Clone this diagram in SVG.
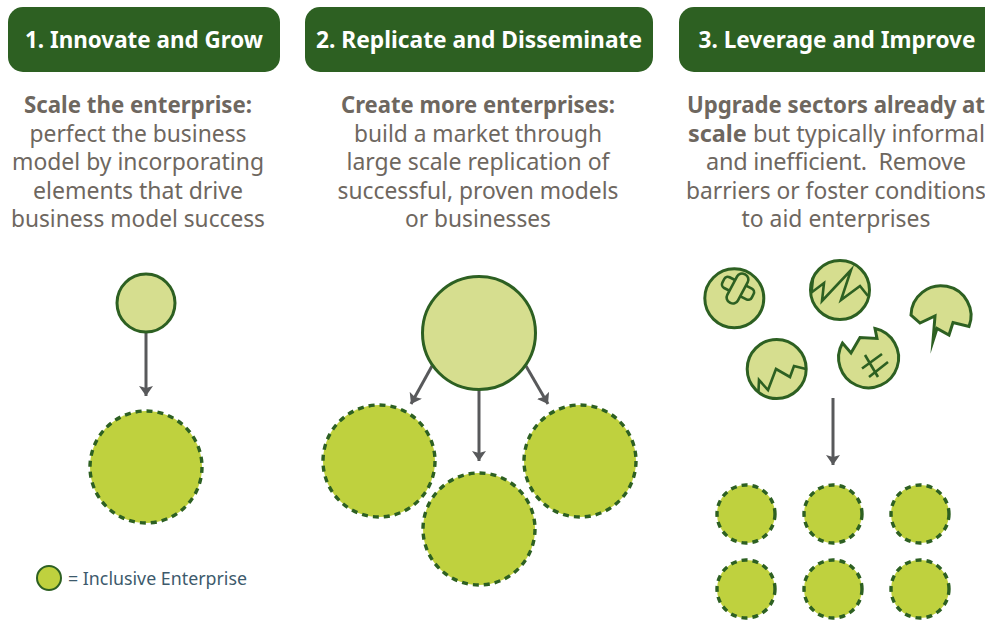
<svg xmlns="http://www.w3.org/2000/svg" width="985" height="620" viewBox="0 0 985 620">
<style>
text{font-family:"Noto Sans","Open Sans",sans-serif;text-anchor:middle}
.hb{fill:#2d6022}
.ht{fill:#fff;font-size:24px;font-weight:700}
.b{fill:#6e675f;font-size:23.5px}
.bb{font-weight:700}
.lt{fill:#d6de8f;stroke:#2d6022;stroke-width:3;stroke-linejoin:miter;stroke-miterlimit:12}
.br{fill:#bfd13e;stroke:#2d6022;stroke-width:3.4;stroke-dasharray:6 5}
.cr{fill:none;stroke:#2d6022;stroke-width:2.6;stroke-miterlimit:12}
.ar{stroke:#58595b;stroke-width:3;fill:none;marker-end:url(#h)}
</style>
<defs><marker id="h" markerUnits="userSpaceOnUse" markerWidth="11" markerHeight="14" refX="10" refY="7" orient="auto"><path d="M0 0L10 7L0 14L2 7Z" fill="#58595b"/></marker></defs>
<g id="connectors">
<path class="ar" d="M146 332V396"/>
<path class="ar" d="M479 390V461"/>
<path class="ar" d="M432 366L411 404"/>
<path class="ar" d="M526 366L548 404"/>
<path class="ar" d="M833 398V465"/>
</g>
<g id="header-1"><rect class="hb" x="8" y="7" width="272" height="65" rx="15"/><text class="ht" x="144" y="48" textLength="238" lengthAdjust="spacingAndGlyphs">1. Innovate and Grow</text></g>
<g id="header-2"><rect class="hb" x="305" y="7" width="348" height="65" rx="15"/><text class="ht" x="479" y="48" textLength="326" lengthAdjust="spacingAndGlyphs">2. Replicate and Disseminate</text></g>
<g id="header-3"><rect class="hb" x="679" y="7" width="326" height="65" rx="15"/><text class="ht" x="837" y="48" textLength="277" lengthAdjust="spacingAndGlyphs">3. Leverage and Improve</text></g>
<g id="text-1">
<text class="b bb" x="138" y="113" textLength="228" lengthAdjust="spacingAndGlyphs">Scale the enterprise:</text>
<text class="b" x="138" y="142" textLength="217" lengthAdjust="spacingAndGlyphs">perfect the business</text>
<text class="b" x="138" y="170" textLength="252" lengthAdjust="spacingAndGlyphs">model by incorporating</text>
<text class="b" x="138" y="199" textLength="210" lengthAdjust="spacingAndGlyphs">elements that drive</text>
<text class="b" x="138" y="227" textLength="254" lengthAdjust="spacingAndGlyphs">business model success</text>
</g>
<g id="text-2">
<text class="b bb" x="478" y="113" textLength="274" lengthAdjust="spacingAndGlyphs">Create more enterprises:</text>
<text class="b" x="478" y="142" textLength="248" lengthAdjust="spacingAndGlyphs">build a market through</text>
<text class="b" x="478" y="170" textLength="263" lengthAdjust="spacingAndGlyphs">large scale replication of</text>
<text class="b" x="478" y="199" textLength="281" lengthAdjust="spacingAndGlyphs">successful, proven models</text>
<text class="b" x="478" y="227" textLength="146" lengthAdjust="spacingAndGlyphs">or businesses</text>
</g>
<g id="text-3">
<text class="b bb" x="836" y="113" textLength="298" lengthAdjust="spacingAndGlyphs">Upgrade sectors already at</text>
<text class="b" x="836.500" y="142" textLength="297" lengthAdjust="spacingAndGlyphs"><tspan class="bb">scale</tspan> but typically informal</text>
<text class="b" x="836" y="170" xml:space="preserve" textLength="260" lengthAdjust="spacing">and inefficient.  Remove</text>
<text class="b" x="836" y="199" textLength="300" lengthAdjust="spacingAndGlyphs">barriers or foster conditions</text>
<text class="b" x="836" y="227" textLength="189" lengthAdjust="spacingAndGlyphs">to aid enterprises</text>
</g>
<g id="node-1-small"><circle class="lt" cx="146" cy="303" r="29"/></g>
<g id="node-1-large"><circle class="br" cx="146" cy="467" r="56"/></g>
<g id="node-2-top"><circle class="lt" cx="479" cy="333" r="56.5"/></g>
<g id="node-2-left"><circle class="br" cx="379" cy="461" r="56"/></g>
<g id="node-2-bottom"><circle class="br" cx="479" cy="529" r="56"/></g>
<g id="node-2-right"><circle class="br" cx="580" cy="461" r="56"/></g>
<g id="broken-1"><circle class="lt" cx="734.3" cy="298.3" r="29.5"/>
<g transform="translate(738 288.300) rotate(27)"><rect class="cr" x="-16.500" y="-6" width="33" height="12" rx="4"/></g>
<g transform="translate(737.500 288.500) rotate(-62)"><rect x="-16" y="-6" width="32" height="12" rx="5.500" fill="#d6de8f" stroke="#2d6022" stroke-width="2.600"/></g></g>
<g id="broken-2"><circle class="lt" cx="840" cy="290" r="29.5"/><path class="cr" d="M813 278L811.500 292.500L824 283L822 301L851 270L841 300L860 286L868 296"/></g>
<g id="broken-3"><path class="lt" d="M911 315A30 30 0 1 1 969 326.500L953 322.500L949 335L937 328.500L933 341L935 316L920 323Z"/></g>
<g id="broken-4"><circle class="lt" cx="776.700" cy="369" r="29.500"/><path class="cr" d="M758.500 391L759 380L768 390L776 369L790 377L794 366L806 369"/></g>
<g id="broken-5"><path class="lt" d="M875 328.500A30 30 0 1 1 842.500 343L851 353L860 337.500L877 338.500Z"/><path class="cr" d="M862 368.500L882 354M869 377L888 362M865 355L878 377"/></g>
<g id="node-3-a"><circle class="br" cx="746" cy="514" r="29"/></g>
<g id="node-3-b"><circle class="br" cx="833" cy="514" r="29"/></g>
<g id="node-3-c"><circle class="br" cx="920" cy="514" r="29"/></g>
<g id="node-3-d"><circle class="br" cx="746" cy="589" r="29"/></g>
<g id="node-3-e"><circle class="br" cx="833" cy="589" r="29"/></g>
<g id="node-3-f"><circle class="br" cx="920" cy="589" r="29"/></g>
<g id="legend"><circle cx="49" cy="578" r="12" fill="#bfd13e" stroke="#2d6022" stroke-width="2"/><text x="157.500" y="585" font-size="18.500" fill="#3d5a6c" textLength="179" lengthAdjust="spacingAndGlyphs">= Inclusive Enterprise</text></g>
</svg>
